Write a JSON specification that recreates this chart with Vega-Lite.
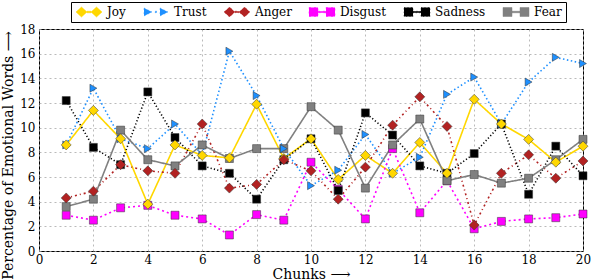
{
  "$schema": "https://vega.github.io/schema/vega-lite/v6.json",
  "width": 544,
  "height": 222,
  "autosize": {"type": "none"},
  "padding": {"left": 39, "top": 29, "right": 9, "bottom": 29},
  "background": "white",
  "datasets": {
    "emo": [
      {"chunk":1,"emotion":"Joy","value":8.6},{"chunk":2,"emotion":"Joy","value":11.4},{"chunk":3,"emotion":"Joy","value":9.1},{"chunk":4,"emotion":"Joy","value":3.8},{"chunk":5,"emotion":"Joy","value":8.6},{"chunk":6,"emotion":"Joy","value":7.75},{"chunk":7,"emotion":"Joy","value":7.55},{"chunk":8,"emotion":"Joy","value":11.9},{"chunk":9,"emotion":"Joy","value":7.5},{"chunk":10,"emotion":"Joy","value":9.1},{"chunk":11,"emotion":"Joy","value":5.8},{"chunk":12,"emotion":"Joy","value":7.75},{"chunk":13,"emotion":"Joy","value":6.3},{"chunk":14,"emotion":"Joy","value":8.8},{"chunk":15,"emotion":"Joy","value":6.3},{"chunk":16,"emotion":"Joy","value":12.3},{"chunk":17,"emotion":"Joy","value":10.3},{"chunk":18,"emotion":"Joy","value":9.05},{"chunk":19,"emotion":"Joy","value":7.2},{"chunk":20,"emotion":"Joy","value":8.5},
      {"chunk":1,"emotion":"Trust","value":8.6},{"chunk":2,"emotion":"Trust","value":13.2},{"chunk":3,"emotion":"Trust","value":9.1},{"chunk":4,"emotion":"Trust","value":8.3},{"chunk":5,"emotion":"Trust","value":10.3},{"chunk":6,"emotion":"Trust","value":7.8},{"chunk":7,"emotion":"Trust","value":16.2},{"chunk":8,"emotion":"Trust","value":12.6},{"chunk":9,"emotion":"Trust","value":8.3},{"chunk":10,"emotion":"Trust","value":5.3},{"chunk":11,"emotion":"Trust","value":6.55},{"chunk":12,"emotion":"Trust","value":9.45},{"chunk":13,"emotion":"Trust","value":6.3},{"chunk":14,"emotion":"Trust","value":7.6},{"chunk":15,"emotion":"Trust","value":12.7},{"chunk":16,"emotion":"Trust","value":14.1},{"chunk":17,"emotion":"Trust","value":10.3},{"chunk":18,"emotion":"Trust","value":13.7},{"chunk":19,"emotion":"Trust","value":15.7},{"chunk":20,"emotion":"Trust","value":15.2},
      {"chunk":1,"emotion":"Anger","value":4.3},{"chunk":2,"emotion":"Anger","value":4.85},{"chunk":3,"emotion":"Anger","value":7.0},{"chunk":4,"emotion":"Anger","value":6.5},{"chunk":5,"emotion":"Anger","value":6.3},{"chunk":6,"emotion":"Anger","value":10.3},{"chunk":7,"emotion":"Anger","value":5.1},{"chunk":8,"emotion":"Anger","value":5.4},{"chunk":9,"emotion":"Anger","value":7.4},{"chunk":10,"emotion":"Anger","value":6.5},{"chunk":11,"emotion":"Anger","value":4.2},{"chunk":12,"emotion":"Anger","value":6.8},{"chunk":13,"emotion":"Anger","value":10.2},{"chunk":14,"emotion":"Anger","value":12.5},{"chunk":15,"emotion":"Anger","value":10.1},{"chunk":16,"emotion":"Anger","value":2.1},{"chunk":17,"emotion":"Anger","value":6.3},{"chunk":18,"emotion":"Anger","value":7.8},{"chunk":19,"emotion":"Anger","value":5.9},{"chunk":20,"emotion":"Anger","value":7.3},
      {"chunk":1,"emotion":"Disgust","value":2.9},{"chunk":2,"emotion":"Disgust","value":2.5},{"chunk":3,"emotion":"Disgust","value":3.5},{"chunk":4,"emotion":"Disgust","value":3.7},{"chunk":5,"emotion":"Disgust","value":2.9},{"chunk":6,"emotion":"Disgust","value":2.6},{"chunk":7,"emotion":"Disgust","value":1.3},{"chunk":8,"emotion":"Disgust","value":2.95},{"chunk":9,"emotion":"Disgust","value":2.5},{"chunk":10,"emotion":"Disgust","value":7.2},{"chunk":11,"emotion":"Disgust","value":5.0},{"chunk":12,"emotion":"Disgust","value":2.6},{"chunk":13,"emotion":"Disgust","value":8.3},{"chunk":14,"emotion":"Disgust","value":3.1},{"chunk":15,"emotion":"Disgust","value":5.7},{"chunk":16,"emotion":"Disgust","value":1.8},{"chunk":17,"emotion":"Disgust","value":2.4},{"chunk":18,"emotion":"Disgust","value":2.6},{"chunk":19,"emotion":"Disgust","value":2.7},{"chunk":20,"emotion":"Disgust","value":3.0},
      {"chunk":1,"emotion":"Sadness","value":12.2},{"chunk":2,"emotion":"Sadness","value":8.4},{"chunk":3,"emotion":"Sadness","value":7.0},{"chunk":4,"emotion":"Sadness","value":12.9},{"chunk":5,"emotion":"Sadness","value":9.2},{"chunk":6,"emotion":"Sadness","value":6.9},{"chunk":7,"emotion":"Sadness","value":6.3},{"chunk":8,"emotion":"Sadness","value":4.2},{"chunk":9,"emotion":"Sadness","value":7.4},{"chunk":10,"emotion":"Sadness","value":9.1},{"chunk":11,"emotion":"Sadness","value":4.9},{"chunk":12,"emotion":"Sadness","value":11.2},{"chunk":13,"emotion":"Sadness","value":9.4},{"chunk":14,"emotion":"Sadness","value":6.9},{"chunk":15,"emotion":"Sadness","value":6.3},{"chunk":16,"emotion":"Sadness","value":7.9},{"chunk":17,"emotion":"Sadness","value":10.3},{"chunk":18,"emotion":"Sadness","value":4.6},{"chunk":19,"emotion":"Sadness","value":8.5},{"chunk":20,"emotion":"Sadness","value":6.1},
      {"chunk":1,"emotion":"Fear","value":3.6},{"chunk":2,"emotion":"Fear","value":4.2},{"chunk":3,"emotion":"Fear","value":9.8},{"chunk":4,"emotion":"Fear","value":7.4},{"chunk":5,"emotion":"Fear","value":6.9},{"chunk":6,"emotion":"Fear","value":8.6},{"chunk":7,"emotion":"Fear","value":7.5},{"chunk":8,"emotion":"Fear","value":8.3},{"chunk":9,"emotion":"Fear","value":8.3},{"chunk":10,"emotion":"Fear","value":11.7},{"chunk":11,"emotion":"Fear","value":9.8},{"chunk":12,"emotion":"Fear","value":5.1},{"chunk":13,"emotion":"Fear","value":8.6},{"chunk":14,"emotion":"Fear","value":10.7},{"chunk":15,"emotion":"Fear","value":5.7},{"chunk":16,"emotion":"Fear","value":6.2},{"chunk":17,"emotion":"Fear","value":5.5},{"chunk":18,"emotion":"Fear","value":5.9},{"chunk":19,"emotion":"Fear","value":7.4},{"chunk":20,"emotion":"Fear","value":9.05}
    ]
  },
  "data": {"name": "emo"},
  "encoding": {
    "x": {
      "field": "chunk", "type": "quantitative",
      "scale": {"domain": [0, 20], "nice": false},
      "axis": {"values": [0,2,4,6,8,10,12,14,16,18,20], "title": "Chunks ⟶", "labelFlush": false}
    },
    "y": {
      "field": "value", "type": "quantitative",
      "scale": {"domain": [0, 18], "nice": false},
      "axis": {"values": [0,2,4,6,8,10,12,14,16,18], "title": "Percentage of Emotional Words ⟶", "titleY": 126}
    },
    "color": {
      "field": "emotion", "type": "nominal",
      "scale": {
        "domain": ["Joy", "Trust", "Anger", "Disgust", "Sadness", "Fear"],
        "range": ["#FFD700", "#1E90FF", "#B22222", "#FF00FF", "#000000", "#808080"]
      },
      "legend": {
        "title": null,
        "orient": "none",
        "legendX": 32,
        "legendY": -27,
        "direction": "horizontal",
        "columns": 6,
        "columnPadding": 16,
        "padding": 4,
        "strokeColor": "black",
        "fillColor": "white",
        "symbolSize": 100,
        "labelOffset": 20,
        "labelFont": "DejaVu Serif",
        "labelFontSize": 12,
        "labelColor": "black",
        "encode": {
          "symbols": {
            "update": {
              "shape": {"signal": "datum.value === 'Trust' ? 'M-0.8,-0.8L0.8,0L-0.8,0.8Z M2.4,-0.8L4,0L2.4,0.8Z M1.45,-0.15L1.75,-0.15L1.75,0.15L1.45,0.15Z' : ((datum.value === 'Joy' || datum.value === 'Anger') ? 'M-1,0L0.1,-1L1.2,0L0.1,1Z M2,0L3.1,-1L4.2,0L3.1,1Z M1.2,-0.15L2,-0.15L2,0.15L1.2,0.15Z' : 'M-1,-0.9L0.8,-0.9L0.8,0.9L-1,0.9Z M2.4,-0.9L4.2,-0.9L4.2,0.9L2.4,0.9Z M0.8,-0.15L2.4,-0.15L2.4,0.15L0.8,0.15Z')"},
              "size": {"value": 100},
              "fill": {"signal": "scale('color', datum.value)"},
              "fillOpacity": {"value": 1},
              "opacity": {"value": 1},
              "stroke": {"value": "#333333"},
              "strokeWidth": {"value": 0.5},
              "strokeDash": {"value": [1, 0]}
            }
          }
        }
      }
    }
  },
  "layer": [
    {
      "mark": {"type": "line", "strokeWidth": 1.6},
      "encoding": {
        "strokeDash": {
          "field": "emotion", "type": "nominal",
          "scale": {
            "domain": ["Joy", "Trust", "Anger", "Disgust", "Sadness", "Fear"],
            "range": [[1, 0], [1.5, 2.5], [2, 3, 1, 3], [2, 3], [1.2, 2.2], [1, 0]]
          },
          "legend": null
        }
      }
    },
    {
      "transform": [{"filter": "datum.emotion === 'Disgust' || datum.emotion === 'Sadness' || datum.emotion === 'Fear'"}],
      "mark": {"type": "point", "shape": "square", "size": 64, "filled": true, "opacity": 1, "stroke": "#333333", "strokeWidth": 0.5}
    },
    {
      "transform": [{"filter": "datum.emotion === 'Trust'"}],
      "mark": {"type": "point", "shape": "triangle-right", "size": 64, "filled": true, "opacity": 1, "stroke": "#333333", "strokeWidth": 0.5}
    },
    {
      "transform": [{"filter": "datum.emotion === 'Joy' || datum.emotion === 'Anger'"}],
      "mark": {"type": "point", "shape": "diamond", "size": 100, "filled": true, "opacity": 1, "stroke": "#333333", "strokeWidth": 0.5}
    }
  ],
  "config": {
    "view": {"stroke": "black", "strokeWidth": 1},
    "font": "DejaVu Serif",
    "axis": {
      "domain": false,
      "ticks": false,
      "grid": true,
      "gridColor": "#a8a8a8",
      "gridDash": [2, 3],
      "gridWidth": 0.8,
      "labelFont": "DejaVu Serif",
      "labelFontSize": 12,
      "labelColor": "black",
      "titleFont": "DejaVu Serif",
      "titleFontSize": 14,
      "titleFontWeight": "normal",
      "titleColor": "black"
    },
    "axisX": {"labelPadding": 3, "titlePadding": 2},
    "axisY": {"labelPadding": 4, "titlePadding": 4}
  }
}
